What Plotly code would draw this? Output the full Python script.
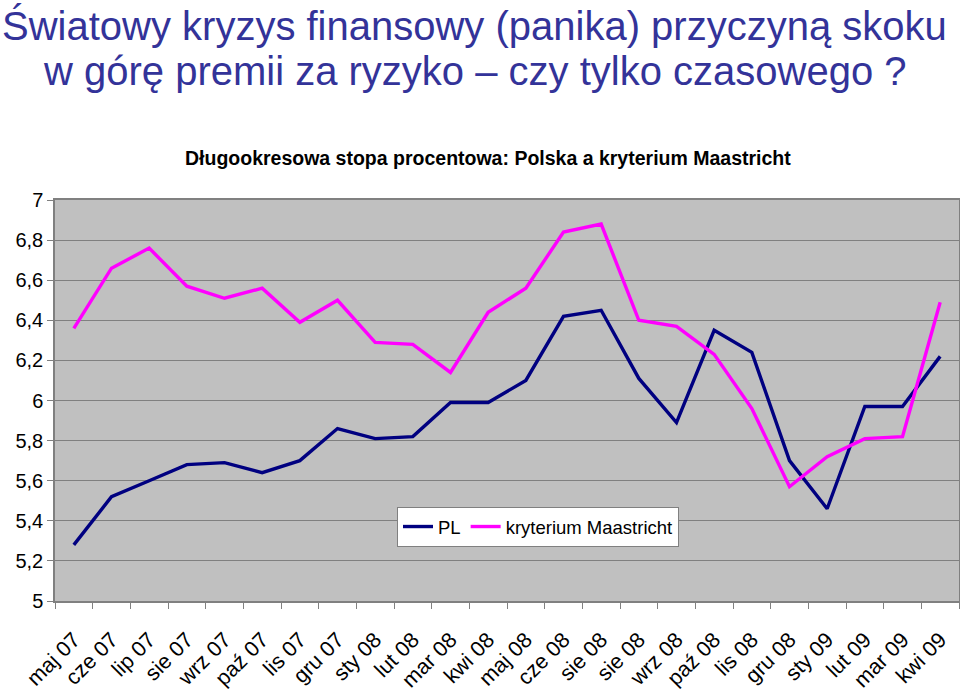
import plotly.graph_objects as go

categories = ["maj 07", "cze 07", "lip 07", "sie 07", "wrz 07", "paź 07", "lis 07", "gru 07",
              "sty 08", "lut 08", "mar 08", "kwi 08", "maj 08", "cze 08", "sie 08", "sie 08",
              "wrz 08", "paź 08", "lis 08", "gru 08", "sty 09", "lut 09", "mar 09", "kwi 09"]

pl_values = [5.28, 5.52, 5.60, 5.68, 5.69, 5.64, 5.70, 5.86,
             5.81, 5.82, 5.99, 5.99, 6.10, 6.42, 6.45, 6.11,
             5.89, 6.35, 6.24, 5.70, 5.46, 5.97, 5.97, 6.22]

maastricht_values = [6.36, 6.66, 6.76, 6.57, 6.51, 6.56, 6.39, 6.50,
                     6.29, 6.28, 6.14, 6.44, 6.56, 6.84, 6.88, 6.40,
                     6.37, 6.23, 5.96, 5.57, 5.72, 5.81, 5.82, 6.49]

title_line1 = "Światowy kryzys finansowy (panika) przyczyną skoku"
title_line2 = "w górę premii za ryzyko – czy tylko czasowego ?"
subtitle = "Długookresowa stopa procentowa: Polska a kryterium Maastricht"

x_idx = list(range(len(categories)))

W, H = 960, 691
ML, MR, MT, MB = 55, 1, 200, 90
plot_w = W - ML - MR
plot_h = H - MT - MB


def px_x(pix):
    return (pix - ML) / plot_w


def px_y(pix):
    return (H - MB - pix) / plot_h


fig = go.Figure()
fig.add_trace(go.Scatter(x=x_idx, y=pl_values, mode="lines", name="PL",
                         line=dict(color="#000080", width=3.4)))
fig.add_trace(go.Scatter(x=x_idx, y=maastricht_values, mode="lines", name="kryterium Maastricht",
                         line=dict(color="#FF00FF", width=3.4)))

fig.update_layout(
    width=W, height=H,
    margin=dict(l=ML, r=MR, t=MT, b=MB, autoexpand=False),
    paper_bgcolor="white",
    plot_bgcolor="#C0C0C0",
    separators=", ",
    font=dict(family="Liberation Sans, Arial, sans-serif", color="black"),
    showlegend=True,
    legend=dict(orientation="h", x=px_x(397), y=px_y(507), xanchor="left", yanchor="top",
                bgcolor="white", bordercolor="#808080", borderwidth=1,
                font=dict(size=18.5, color="black"), itemwidth=30,
                tracegroupgap=0),
    xaxis=dict(
        range=[-0.5, len(categories) - 0.5],
        tickmode="array", tickvals=x_idx, ticktext=categories,
        tickangle=-45, tickfont=dict(size=21.5, color="black"),
        ticks="", showgrid=False, zeroline=False, automargin=False,
        ticklabelstandoff=16,
        showline=True, linecolor="#808080", linewidth=1.5, mirror=True,
        minor=dict(tickmode="linear", tick0=-0.5, dtick=1, ticks="outside",
                   ticklen=6, tickcolor="#808080", showgrid=False),
    ),
    yaxis=dict(
        range=[5, 7], dtick=0.2, tick0=5,
        tickfont=dict(size=20, color="black"),
        ticks="outside", ticklen=6, tickcolor="#808080",
        showgrid=True, gridcolor="#808080", gridwidth=1,
        zeroline=False, automargin=False,
        showline=True, linecolor="#808080", linewidth=1.5, mirror=True,
    ),
    annotations=[
        dict(text=title_line1, x=px_x(474), y=px_y(25), xref="paper", yref="paper",
             xanchor="center", yanchor="middle",
             showarrow=False, font=dict(size=40, color="#333399")),
        dict(text=title_line2, x=px_x(474.5), y=px_y(71), xref="paper", yref="paper",
             xanchor="center", yanchor="middle",
             showarrow=False, font=dict(size=40, color="#333399")),
        dict(text="<b>" + subtitle + "</b>", x=px_x(488), y=px_y(158), xref="paper", yref="paper",
             xanchor="center", yanchor="middle",
             showarrow=False, font=dict(size=19.5, color="black")),
    ],
)

fig.write_html("out.html", config={"displayModeBar": False},
               post_script="document.body.style.margin='0';document.body.style.overflow='hidden';")
